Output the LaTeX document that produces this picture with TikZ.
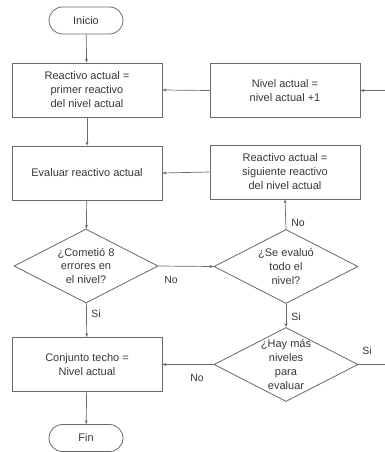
\documentclass[tikz,border=0pt]{standalone}
\usepackage{fontspec}
\setmainfont{Liberation Sans}
\usetikzlibrary{shapes.geometric,arrows.meta}
\definecolor{linegray}{RGB}{105,105,105}
\definecolor{textgray}{RGB}{55,55,55}

\begin{document}
\begin{tikzpicture}[x=1pt,y=-1pt,
  every node/.style={font=\fontsize{11}{14}\selectfont, text=textgray},
  box/.style={draw=linegray, line width=0.8pt, minimum width=150pt, minimum height=54pt, align=center, inner sep=0pt},
  term/.style={draw=linegray, line width=0.8pt, rounded corners=13.5pt, minimum width=74pt, minimum height=27pt, inner sep=0pt},
  decision/.style={diamond, draw=linegray, line width=0.8pt, minimum width=144pt, minimum height=74pt, inner sep=0pt},
  flow/.style={draw=linegray, line width=0.7pt, -{Stealth[length=4pt,width=3pt]}},
  lbl/.style={font=\fontsize{10.5}{12}\selectfont, inner sep=0pt}
]
\useasboundingbox (0,0) rectangle (384,452);

% Left column
\node[term] (inicio) at (86,20.5) {Inicio};
\node[box] (reac1) at (87,90) {Reactivo actual =\\primer reactivo\\del nivel actual};
\node[box] (eval) at (87,173) {Evaluar reactivo actual};
\node[decision, label={[align=center]center:{¿Cometió 8\\errores en\\el nivel?}}] (comet) at (86,266) {};
\node[box] (techo) at (87,364.5) {Conjunto techo =\\Nivel actual};
\node[term] (fin) at (86,438) {Fin};

% Right column
\node[box] (nivel) at (285,90.5) {Nivel actual =\\nivel actual +1};
\node[box] (reac2) at (285,172) {Reactivo actual =\\siguiente reactivo\\del nivel actual};
\node[decision, label={[align=center]center:{¿Se evaluó\\todo el\\nivel?}}] (todo) at (286,266.5) {};
\node[decision, label={[align=center]center:{¿Hay más\\niveles\\para\\evaluar}}] (mas) at (286,364.5) {};

% Turning point of the loop back to the level update (beyond the right margin)
\coordinate (loop) at (395,0);

% Main flow
\draw[flow] (inicio) -- (reac1);
\draw[flow] (reac1) -- (eval);
\draw[flow] (eval) -- (comet);
\draw[flow] (comet) -- (techo);
\draw[flow] (techo) -- (fin);

% Decisions and loops
\draw[flow] (comet.east) -- (todo.west);
\draw[flow] (todo.north) -- (reac2.south);
\draw[flow] (todo.south) -- (mas.north);
\draw[flow] (mas.west) -- (techo.east);
\draw[flow] (mas.east) -- (mas.east -| loop) |- (nivel.east);
\draw[flow] (nivel.west) -- (reac1.east);
\draw[flow] (reac2.west) -- (eval.east);

% Branch labels
\node[lbl] (siA) at (96,314) {Si};
\node[lbl] (noA) at (171,279.5) {No};
\node[lbl] (noB) at (298,223) {No};
\node[lbl] (siB) at (296,316.5) {Si};
\node[lbl] (noC) at (197,378) {No};
\node[lbl] (siC) at (367,351) {Si};
\end{tikzpicture}
\end{document}
